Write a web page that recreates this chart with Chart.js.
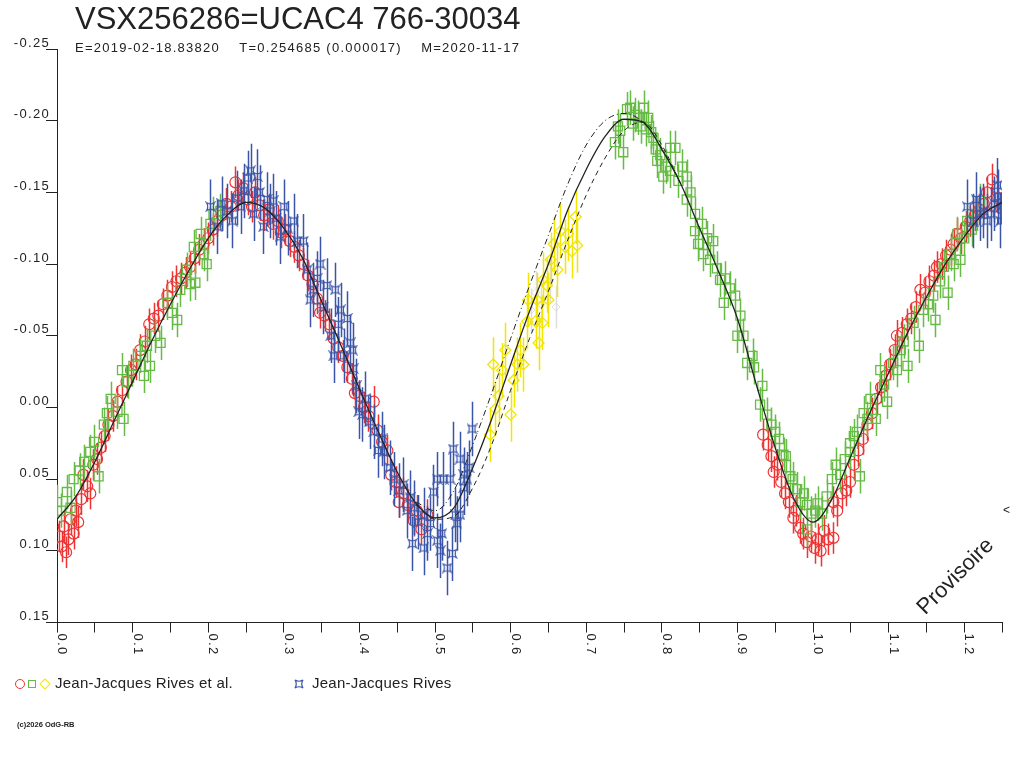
<!DOCTYPE html>
<html lang="fr">
<head>
  <meta charset="UTF-8">
  <title>VSX256286=UCAC4 766-30034</title>
  <script src="https://cdn.jsdelivr.net/npm/chart.js"></script>
  <style>
    * {
      box-sizing: border-box;
    }

    body {
      margin: 0;
      padding: 0;
      background: #fff;
      font-family: 'Liberation Sans', Arial, sans-serif;
      color: #222;
    }

    #wrap {
      position: relative;
      width: 1024px;
      height: 768px;
      overflow: hidden;
    }

    #lc {
      position: absolute;
      left: 0;
      top: 0;
    }

    .txt {
      position: absolute;
      white-space: pre;
    }

    .title {
      left: 75px;
      top: 1px;
      font-size: 31px;
      line-height: 36px;
    }

    .sub {
      left: 75px;
      top: 40px;
      font-size: 13px;
      line-height: 15px;
      letter-spacing: 1.25px;
    }

    .legend {
      top: 674px;
      font-size: 15px;
      line-height: 18px;
      letter-spacing: 0.25px;
    }

    .copy {
      left: 17px;
      top: 720px;
      font-size: 7.5px;
      line-height: 9px;
      font-weight: bold;
    }

    .prov {
      left: 955px;
      top: 576px;
      font-size: 22px;
      line-height: 24px;
      transform: translate(-50%, -50%) rotate(-45deg);
    }

    .mark {
      display: inline-block;
      vertical-align: middle;
      margin-right: 3px;
    }

    .m-circle {
      width: 10px;
      height: 10px;
      border: 1.4px solid #ee3333;
      border-radius: 50%;
    }

    .m-square {
      width: 8px;
      height: 8px;
      border: 1.4px solid #66bb44;
    }

    .m-diamond {
      width: 8px;
      height: 8px;
      border: 1.4px solid #f2e600;
      transform: rotate(45deg);
      margin-left: 2px;
      margin-right: 6px;
    }

    .m-star {
      margin-right: 8px;
    }
  </style>
</head>
<body>
<div id="wrap">
  <canvas id="lc" width="1024" height="768"></canvas>

  <div class="txt title">VSX256286=UCAC4 766-30034</div>
  <div class="txt sub">E=2019-02-18.83820    T=0.254685 (0.000017)    M=2020-11-17</div>

  <div class="txt legend" style="left:15px"><span class="mark m-circle"></span><span class="mark m-square"></span><span class="mark m-diamond"></span>Jean-Jacques Rives et al.</div>
  <div class="txt legend" style="left:294px"><svg class="mark m-star" width="10" height="10" viewBox="-5 -5 10 10"><path d="M-4,-4 Q0,-1.5 4,-4 Q1.5,0 4,4 Q0,1.5 -4,4 Q-1.5,0 -4,-4 Z" fill="none" stroke="#3a55a8" stroke-width="1.2"/></svg>Jean-Jacques Rives</div>

  <div class="txt copy">(c)2026 OdG-RB</div>
  <div class="txt prov">Provisoire</div>
  <div class="txt" style="left:1003px; top:503px; font-size:12px;">&lt;</div>
</div>

<script>
  // phase / magnitude
  const redObs = [
    [0.003, 0.090], [0.006, 0.097], [0.009, 0.083], [0.012, 0.101], [0.015, 0.092], [0.018, 0.078],
    [0.022, 0.088], [0.025, 0.072], [0.028, 0.080], [0.032, 0.064], [0.035, 0.047], [0.040, 0.055],
    [0.044, 0.060], [0.048, 0.040], [0.053, 0.036], [0.058, 0.028], [0.063, 0.020], [0.068, 0.012],
    [0.074, 0.006], [0.080, -0.004], [0.086, -0.012], [0.092, -0.018], [0.098, -0.026], [0.104, -0.030],
    [0.110, -0.040], [0.116, -0.046], [0.122, -0.058], [0.128, -0.062], [0.134, -0.064], [0.140, -0.072],
    [0.146, -0.078], [0.152, -0.084], [0.158, -0.088], [0.164, -0.090], [0.170, -0.094], [0.176, -0.098],
    [0.182, -0.104], [0.188, -0.110], [0.194, -0.114], [0.200, -0.118], [0.206, -0.124], [0.212, -0.130],
    [0.218, -0.134], [0.224, -0.142], [0.230, -0.140], [0.236, -0.157], [0.240, -0.148], [0.246, -0.153],
    [0.252, -0.145], [0.258, -0.140], [0.262, -0.150], [0.268, -0.141], [0.274, -0.134], [0.280, -0.138],
    [0.286, -0.128], [0.292, -0.130], [0.296, -0.122],
    [0.302, -0.124], [0.308, -0.116], [0.314, -0.112], [0.320, -0.106], [0.326, -0.100], [0.332, -0.092],
    [0.338, -0.086], [0.344, -0.076], [0.348, -0.066], [0.354, -0.064], [0.360, -0.058], [0.366, -0.048],
    [0.372, -0.042], [0.378, -0.036], [0.384, -0.028], [0.390, -0.020], [0.394, -0.010], [0.400, -0.008],
    [0.406, 0.000], [0.412, 0.006], [0.419, -0.004], [0.424, 0.016], [0.430, 0.024], [0.437, 0.030],
    [0.442, 0.047], [0.448, 0.052], [0.452, 0.066], [0.458, 0.060], [0.464, 0.068], [0.472, 0.079],
    [0.476, 0.072], [0.482, 0.085], [0.490, 0.075],
    [0.934, 0.019], [0.940, 0.026], [0.945, 0.034], [0.948, 0.045], [0.953, 0.040], [0.958, 0.052],
    [0.963, 0.060], [0.968, 0.066], [0.974, 0.077], [0.978, 0.072], [0.983, 0.084], [0.987, 0.088],
    [0.992, 0.094], [0.997, 0.090], [1.002, 0.098], [1.006, 0.092], [1.010, 0.100], [1.015, 0.086],
    [1.020, 0.092], [1.027, 0.091], [1.027, 0.066], [1.032, 0.072], [1.038, 0.060], [1.044, 0.058],
    [1.049, 0.052], [1.054, 0.040], [1.060, 0.030], [1.066, 0.022], [1.072, 0.012], [1.078, 0.004],
    [1.084, -0.006], [1.090, -0.014], [1.096, -0.022], [1.102, -0.030], [1.108, -0.040], [1.111, -0.050],
    [1.118, -0.052], [1.124, -0.058], [1.130, -0.062], [1.136, -0.070], [1.142, -0.082], [1.148, -0.080],
    [1.154, -0.088], [1.160, -0.092], [1.164, -0.098], [1.170, -0.100], [1.176, -0.106], [1.182, -0.110],
    [1.186, -0.114], [1.191, -0.121], [1.196, -0.118], [1.202, -0.126], [1.208, -0.130], [1.214, -0.134],
    [1.220, -0.138], [1.226, -0.142], [1.230, -0.150], [1.237, -0.159], [1.240, -0.140], [1.245, -0.146],
    [1.249, -0.139]
  ];

  const greenObs = [
    [0.000, 0.066], [0.005, 0.072], [0.013, 0.059], [0.018, 0.070], [0.022, 0.050], [0.030, 0.044],
    [0.036, 0.038], [0.044, 0.031], [0.049, 0.024], [0.055, 0.048], [0.062, 0.012], [0.066, 0.004],
    [0.071, -0.006], [0.080, 0.003], [0.086, -0.026], [0.088, 0.008], [0.094, -0.018], [0.101, -0.029],
    [0.110, -0.036], [0.115, -0.022], [0.119, -0.043], [0.123, -0.029], [0.130, -0.050], [0.137, -0.045],
    [0.146, -0.073], [0.152, -0.066], [0.159, -0.061], [0.163, -0.082], [0.172, -0.096], [0.176, -0.086],
    [0.181, -0.112], [0.183, -0.087], [0.190, -0.121], [0.194, -0.107], [0.198, -0.100], [0.203, -0.128],
    [0.207, -0.135], [0.216, -0.137],
    [0.738, -0.185], [0.742, -0.196], [0.745, -0.193], [0.749, -0.178], [0.754, -0.208], [0.758, -0.209],
    [0.762, -0.198], [0.765, -0.204], [0.769, -0.202], [0.772, -0.196], [0.776, -0.209], [0.779, -0.194],
    [0.782, -0.202], [0.786, -0.192], [0.789, -0.188], [0.792, -0.180], [0.794, -0.172], [0.798, -0.176],
    [0.802, -0.161], [0.806, -0.168], [0.811, -0.181], [0.811, -0.165], [0.818, -0.181], [0.822, -0.158],
    [0.827, -0.168], [0.833, -0.161], [0.833, -0.145], [0.838, -0.150], [0.844, -0.135], [0.844, -0.123],
    [0.848, -0.114], [0.853, -0.128], [0.855, -0.107], [0.860, -0.118], [0.864, -0.103], [0.868, -0.116],
    [0.873, -0.097], [0.877, -0.089], [0.882, -0.073], [0.884, -0.090], [0.890, -0.083], [0.897, -0.078],
    [0.900, -0.050], [0.904, -0.064], [0.908, -0.050], [0.913, -0.031], [0.920, -0.036], [0.922, -0.028],
    [0.930, -0.002], [0.933, -0.015], [0.939, 0.005], [0.945, 0.012], [0.950, 0.017], [0.955, 0.022],
    [0.961, 0.033], [0.964, 0.034], [0.970, 0.048], [0.973, 0.050], [0.979, 0.057], [0.983, 0.066],
    [0.988, 0.060], [0.992, 0.068], [0.992, 0.085], [0.998, 0.074], [1.003, 0.072], [1.006, 0.067],
    [1.012, 0.074],
    [1.018, 0.062], [1.025, 0.050], [1.030, 0.040], [1.036, 0.047], [1.042, 0.036], [1.049, 0.031],
    [1.049, 0.025], [1.054, 0.020], [1.058, 0.017], [1.062, 0.048], [1.067, 0.004], [1.072, 0.008],
    [1.076, -0.006], [1.083, 0.008], [1.089, -0.026], [1.094, -0.016], [1.098, -0.004], [1.106, -0.031],
    [1.111, -0.026], [1.116, -0.040], [1.120, -0.046], [1.125, -0.029], [1.133, -0.059], [1.140, -0.043],
    [1.146, -0.068], [1.152, -0.072], [1.159, -0.078], [1.162, -0.061], [1.168, -0.088], [1.173, -0.098],
    [1.178, -0.080], [1.182, -0.107], [1.186, -0.100], [1.191, -0.121], [1.195, -0.103], [1.200, -0.118],
    [1.204, -0.130], [1.210, -0.124], [1.217, -0.135], [1.221, -0.144]
  ];

  const yellowObs = [
    [0.573, 0.019], [0.577, -0.030], [0.580, 0.001], [0.584, -0.008], [0.589, -0.026], [0.593, -0.040],
    [0.600, 0.005], [0.604, -0.019], [0.609, -0.030], [0.613, -0.040], [0.617, -0.030], [0.622, -0.060],
    [0.623, -0.075], [0.633, -0.060], [0.635, -0.075], [0.637, -0.045], [0.642, -0.059], [0.643, -0.089],
    [0.648, -0.085], [0.650, -0.075], [0.653, -0.103], [0.657, -0.114], [0.662, -0.096], [0.666, -0.123],
    [0.672, -0.112], [0.676, -0.121], [0.681, -0.109], [0.686, -0.133], [0.688, -0.113]
  ];

  const greyObs = [
    [0.627, -0.068], [0.633, -0.080], [0.640, -0.072], [0.652, -0.088], [0.660, -0.070]
  ];

  const blueObs = [
    [0.203, -0.140], [0.212, -0.126], [0.218, -0.142], [0.225, -0.137], [0.232, -0.130], [0.238, -0.146],
    [0.243, -0.140], [0.247, -0.151], [0.252, -0.160], [0.256, -0.165], [0.260, -0.135], [0.265, -0.161],
    [0.268, -0.150], [0.273, -0.126], [0.278, -0.145], [0.282, -0.137], [0.286, -0.144], [0.290, -0.132],
    [0.295, -0.119], [0.300, -0.140], [0.305, -0.125], [0.313, -0.130], [0.318, -0.116], [0.326, -0.116],
    [0.331, -0.096], [0.335, -0.075], [0.339, -0.082], [0.344, -0.090], [0.348, -0.100], [0.352, -0.070],
    [0.357, -0.085], [0.362, -0.050], [0.366, -0.036], [0.368, -0.082], [0.372, -0.058], [0.375, -0.068],
    [0.379, -0.036], [0.384, -0.062], [0.388, -0.045], [0.391, -0.040], [0.392, -0.027], [0.396, -0.015],
    [0.399, 0.003], [0.404, 0.005], [0.408, -0.006], [0.414, 0.010], [0.419, 0.017], [0.425, 0.030],
    [0.430, 0.022], [0.432, 0.031], [0.440, 0.042], [0.446, 0.050], [0.452, 0.058], [0.458, 0.054],
    [0.463, 0.072], [0.467, 0.063], [0.470, 0.095], [0.472, 0.070], [0.478, 0.080], [0.485, 0.075],
    [0.485, 0.098], [0.490, 0.088], [0.494, 0.081], [0.498, 0.059], [0.503, 0.050], [0.503, 0.093],
    [0.507, 0.100], [0.509, 0.088], [0.511, 0.050], [0.516, 0.112], [0.520, 0.050], [0.523, 0.102],
    [0.524, 0.029], [0.527, 0.075], [0.529, 0.081], [0.533, 0.036], [0.533, 0.075], [0.538, 0.047],
    [0.538, 0.056], [0.542, 0.050], [0.545, 0.042], [0.549, 0.015],
    [1.204, -0.140], [1.212, -0.130], [1.216, -0.145], [1.221, -0.135], [1.225, -0.137], [1.230, -0.130],
    [1.235, -0.135], [1.240, -0.142], [1.244, -0.155], [1.245, -0.147], [1.248, -0.130]
  ];

  // error bar half-length per observer (mag)
  const redErr = 0.011;
  const greenErr = 0.012;
  const yellowErr = 0.019;
  const greyErr = 0.015;
  const blueErr = 0.019;

  // fitted curve
  const curvePhase = [
    0.000, 0.025, 0.050, 0.075, 0.100, 0.125, 0.150, 0.175, 0.200, 0.225,
    0.250, 0.275, 0.300, 0.325, 0.350, 0.375, 0.400, 0.425, 0.450, 0.475,
    0.500, 0.525, 0.550, 0.575, 0.600, 0.625, 0.650, 0.675, 0.700, 0.725,
    0.750, 0.775, 0.800, 0.825, 0.850, 0.875, 0.900, 0.925, 0.950, 0.975,
    1.000, 1.025, 1.050, 1.075, 1.100, 1.125, 1.150, 1.175, 1.200, 1.225, 1.250
  ];
  const curveMid = [
    0.078, 0.062, 0.038, 0.010, -0.018, -0.046, -0.072, -0.096, -0.118, -0.134,
    -0.143, -0.139, -0.125, -0.104, -0.074, -0.044, -0.013, 0.017, 0.045, 0.067,
    0.077, 0.070, 0.042, 0.008, -0.030, -0.067, -0.100, -0.137, -0.166, -0.189,
    -0.201, -0.199, -0.180, -0.156, -0.125, -0.095, -0.062, -0.016, 0.028, 0.064,
    0.080, 0.064, 0.034, 0.004, -0.024, -0.052, -0.077, -0.100, -0.119, -0.135, -0.143
  ];
  // upper and lower fits on the rising branch
  const sidePhase = [0.475, 0.500, 0.525, 0.550, 0.575, 0.600, 0.625, 0.650, 0.675, 0.700, 0.725, 0.750, 0.775, 0.800, 0.825];
  const curveEarly = [0.066, 0.072, 0.058, 0.026, -0.010, -0.048, -0.085, -0.120, -0.155, -0.183, -0.200, -0.205, -0.199, -0.181, -0.156];
  const curveLate = [0.068, 0.078, 0.076, 0.056, 0.026, -0.012, -0.048, -0.081, -0.116, -0.148, -0.174, -0.193, -0.199, -0.183, -0.156];

  const xTickLabels = [0.0, 0.1, 0.2, 0.3, 0.4, 0.5, 0.6, 0.7, 0.8, 0.9, 1.0, 1.1, 1.2];

  const toXY = arr => arr.map(d => ({ x: d[0], y: d[1] }));
  const zip = (xs, ys) => xs.map((x, i) => ({ x: x, y: ys[i] }));

  // blue observer symbol
  function makeStar(color) {
    const c = document.createElement("canvas");
    c.width = 11;
    c.height = 11;
    const g = c.getContext("2d");
    g.translate(5.5, 5.5);
    g.strokeStyle = color;
    g.lineWidth = 1.2;
    g.beginPath();
    g.moveTo(-4, -4);
    g.quadraticCurveTo(0, -1.5, 4, -4);
    g.quadraticCurveTo(1.5, 0, 4, 4);
    g.quadraticCurveTo(0, 1.5, -4, 4);
    g.quadraticCurveTo(-1.5, 0, -4, -4);
    g.closePath();
    g.stroke();
    return c;
  }

  const errorBars = {
    id: "errorBars",
    beforeDatasetDraw(chart, args) {
      const ds = chart.data.datasets[args.index];
      if (!ds.errBar) return;
      const ctx = chart.ctx;
      const ys = chart.scales.y;
      const xs = chart.scales.x;
      const area = chart.chartArea;
      ctx.save();
      ctx.beginPath();
      ctx.rect(area.left, area.top, area.right - area.left, area.bottom - area.top);
      ctx.clip();
      ctx.strokeStyle = ds.borderColor;
      ctx.lineWidth = 1.5;
      ctx.beginPath();
      ds.data.forEach(p => {
        const px = Math.round(xs.getPixelForValue(p.x)) + 0.5;
        ctx.moveTo(px, ys.getPixelForValue(p.y - ds.errBar));
        ctx.lineTo(px, ys.getPixelForValue(p.y + ds.errBar));
      });
      ctx.stroke();
      ctx.restore();
    }
  };

  const axisText = {
    id: "axisText",
    beforeDraw(chart) {
      chart.ctx.letterSpacing = "1.3px";
    },
    afterDraw(chart) {
      const ctx = chart.ctx;
      const xs = chart.scales.x;
      const base = chart.chartArea.bottom + 11;
      ctx.save();
      ctx.fillStyle = "#222";
      ctx.font = "13px 'Liberation Sans', Arial, sans-serif";
      ctx.textAlign = "left";
      ctx.textBaseline = "alphabetic";
      xTickLabels.forEach(v => {
        const px = xs.getPixelForValue(v);
        ctx.save();
        ctx.translate(px + 1, base);
        ctx.rotate(Math.PI / 2);
        ctx.fillText(v.toFixed(1), 0, 0);
        ctx.restore();
      });
      ctx.restore();
    }
  };

  const ctx = document.getElementById("lc").getContext("2d");
  new Chart(ctx, {
    type: "scatter",
    data: {
      datasets: [
        {
          label: "fit",
          data: zip(curvePhase, curveMid),
          showLine: true,
          borderColor: "#222",
          borderWidth: 1.3,
          pointRadius: 0,
          cubicInterpolationMode: "monotone"
        },
        {
          label: "fit early",
          data: zip(sidePhase, curveEarly),
          showLine: true,
          borderColor: "#222",
          borderWidth: 1,
          borderDash: [6, 3, 1, 3],
          pointRadius: 0,
          cubicInterpolationMode: "monotone"
        },
        {
          label: "fit late",
          data: zip(sidePhase, curveLate),
          showLine: true,
          borderColor: "#222",
          borderWidth: 1,
          borderDash: [5, 4],
          pointRadius: 0,
          cubicInterpolationMode: "monotone"
        },
        {
          label: "Jean-Jacques Rives",
          data: toXY(blueObs),
          errBar: blueErr,
          borderColor: "#3a55a8",
          pointStyle: makeStar("#3a55a8"),
          pointRadius: 5
        },
        {
          label: "Jean-Jacques Rives et al. (V)",
          data: toXY(yellowObs),
          errBar: yellowErr,
          borderColor: "#f2e600",
          backgroundColor: "rgba(0,0,0,0)",
          pointStyle: "rectRot",
          pointRadius: 5.5,
          borderWidth: 1.3
        },
        {
          label: "grey",
          data: toXY(greyObs),
          errBar: greyErr,
          borderColor: "#dcdcdc",
          backgroundColor: "rgba(0,0,0,0)",
          pointStyle: "rectRot",
          pointRadius: 4,
          borderWidth: 1
        },
        {
          label: "Jean-Jacques Rives et al. (G)",
          data: toXY(greenObs),
          errBar: greenErr,
          borderColor: "#66bb44",
          backgroundColor: "rgba(0,0,0,0)",
          pointStyle: "rect",
          pointRadius: 6.4,
          borderWidth: 1.3
        },
        {
          label: "Jean-Jacques Rives et al. (R)",
          data: toXY(redObs),
          errBar: redErr,
          borderColor: "#ee3333",
          backgroundColor: "rgba(0,0,0,0)",
          pointStyle: "circle",
          pointRadius: 5.5,
          borderWidth: 1.2
        }
      ]
    },
    options: {
      responsive: false,
      animation: false,
      events: [],
      layout: {
        padding: { top: 49, right: 22, left: 0, bottom: 0 }
      },
      plugins: {
        legend: { display: false },
        tooltip: { enabled: false }
      },
      scales: {
        x: {
          type: "linear",
          min: 0,
          max: 1.25,
          afterFit: s => { s.height = 145.5; },
          border: { color: "#222", width: 1 },
          grid: { drawOnChartArea: false, tickLength: 10, color: "#222" },
          ticks: { stepSize: 0.05, autoSkip: false, display: false }
        },
        y: {
          type: "linear",
          reverse: true,
          min: -0.25,
          max: 0.15,
          afterFit: s => { s.width = 57; },
          border: { color: "#222", width: 1 },
          grid: { drawOnChartArea: false, tickLength: 11, color: "#222" },
          ticks: {
            stepSize: 0.05,
            padding: -4,
            labelOffset: -6,
            color: "#222",
            font: { family: "'Liberation Sans', Arial, sans-serif", size: 13 },
            callback: v => (Math.abs(v) < 1e-9 ? 0 : v).toFixed(2)
          }
        }
      }
    },
    plugins: [errorBars, axisText]
  });
</script>
</body>
</html>
